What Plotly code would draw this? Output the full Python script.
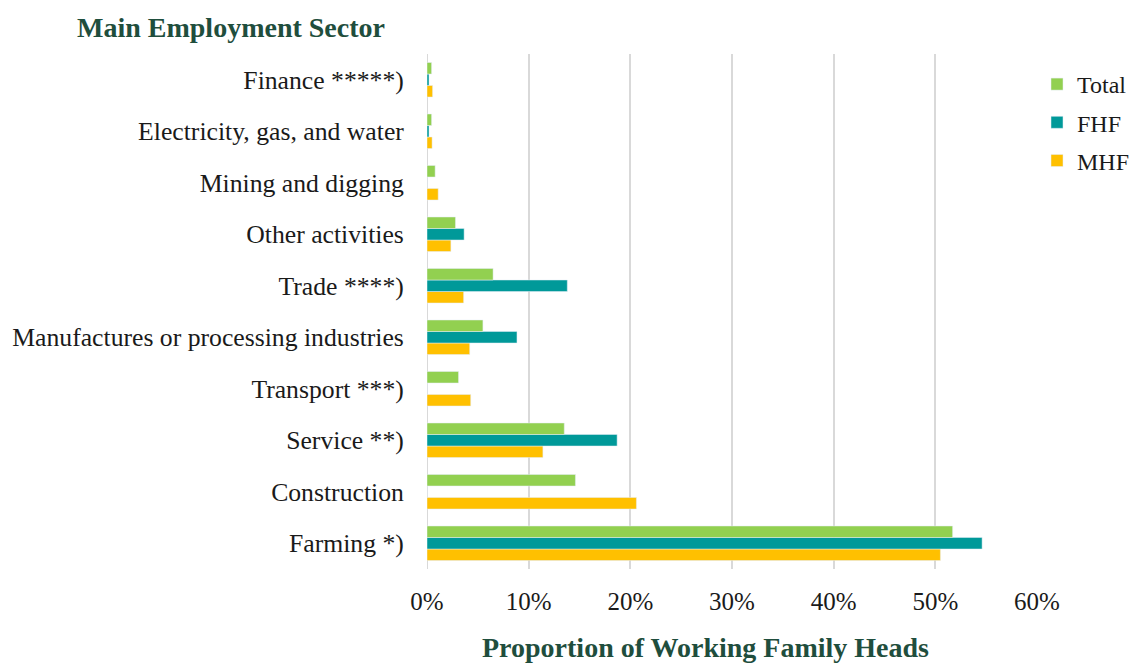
import plotly.graph_objects as go

categories = ["Farming *)", "Construction", "Service **)", "Transport ***)",
              "Manufactures or processing industries", "Trade ****)",
              "Other activities", "Mining and digging",
              "Electricity, gas, and water", "Finance *****)"]
total = [0.517, 0.146, 0.135, 0.031, 0.055, 0.065, 0.028, 0.008, 0.0045, 0.0045]
fhf   = [0.546, 0.0,   0.187, 0.0,   0.0885, 0.138, 0.0365, 0.0, 0.002, 0.002]
mhf   = [0.505, 0.206, 0.114, 0.043, 0.042, 0.036, 0.0235, 0.011, 0.005, 0.0055]
xticks = [0, 0.1, 0.2, 0.3, 0.4, 0.5, 0.6]
xticklabels = ["0%", "10%", "20%", "30%", "40%", "50%", "60%"]

serif = "Liberation Serif"
dark_green = "#1f4e3d"
text_col = "#1a1a1a"

W, H = 1132, 664
L, R, T, B = 427, 95, 54, 95

fig = go.Figure()
fig.add_trace(go.Bar(name="MHF", y=categories, x=mhf, orientation="h",
                     legendgroup="c", legendrank=3, marker=dict(color="#ffc000")))
fig.add_trace(go.Bar(name="FHF", y=categories, x=fhf, orientation="h",
                     legendgroup="b", legendrank=2, marker=dict(color="#009999")))
fig.add_trace(go.Bar(name="Total", y=categories, x=total, orientation="h",
                     legendgroup="a", legendrank=1, marker=dict(color="#92d050")))

plot_w = W - L - R
fig.update_layout(
    width=W, height=H,
    barmode="group", bargap=0.33, bargroupgap=0,
    plot_bgcolor="white", paper_bgcolor="white",
    margin=dict(l=L, r=R, t=T, b=B, autoexpand=False),
    font=dict(family=serif, size=25.7, color=text_col),
    title=dict(text="<b>Main Employment Sector</b>", xref="container", yref="container",
               x=77/W, y=1-27/H, xanchor="left", yanchor="middle",
               font=dict(family=serif, size=28, color=dark_green)),
    legend=dict(traceorder="grouped", xref="container", yref="container",
                x=1037/W, y=1-62/H, xanchor="left", yanchor="top",
                font=dict(family=serif, size=24, color=text_col),
                itemwidth=30, tracegroupgap=4, bgcolor="rgba(0,0,0,0)"),
    xaxis=dict(range=[0, 0.6], tickvals=xticks, ticktext=xticklabels,
               showgrid=True, gridcolor="#d9d9d9", gridwidth=2,
               zeroline=False, showline=False,
               ticks="outside", ticklen=10, tickcolor="rgba(0,0,0,0)",
               tickfont=dict(family=serif, size=25, color=text_col)),
    yaxis=dict(categoryorder="array", categoryarray=categories,
               showgrid=False, zeroline=False, showline=False,
               ticks="outside", ticklen=17, tickcolor="rgba(0,0,0,0)",
               tickfont=dict(family=serif, size=25.7, color=text_col)),
    annotations=[dict(text="<b>Proportion of Working Family Heads</b>",
                      xref="paper", yref="paper",
                      x=(705 - L) / plot_w, y=0, yshift=-(647 - (H - B)),
                      xanchor="center", yanchor="middle", showarrow=False,
                      font=dict(family=serif, size=28, color=dark_green))],
    showlegend=True,
)
fig.add_shape(type="line", xref="x", yref="paper", x0=0, x1=0, y0=0, y1=1,
              line=dict(color="#d9d9d9", width=2), layer="below")

fig.write_html("out.html", config={"displayModeBar": False},
               post_script="document.body.style.margin='0';document.body.style.overflow='hidden';")
